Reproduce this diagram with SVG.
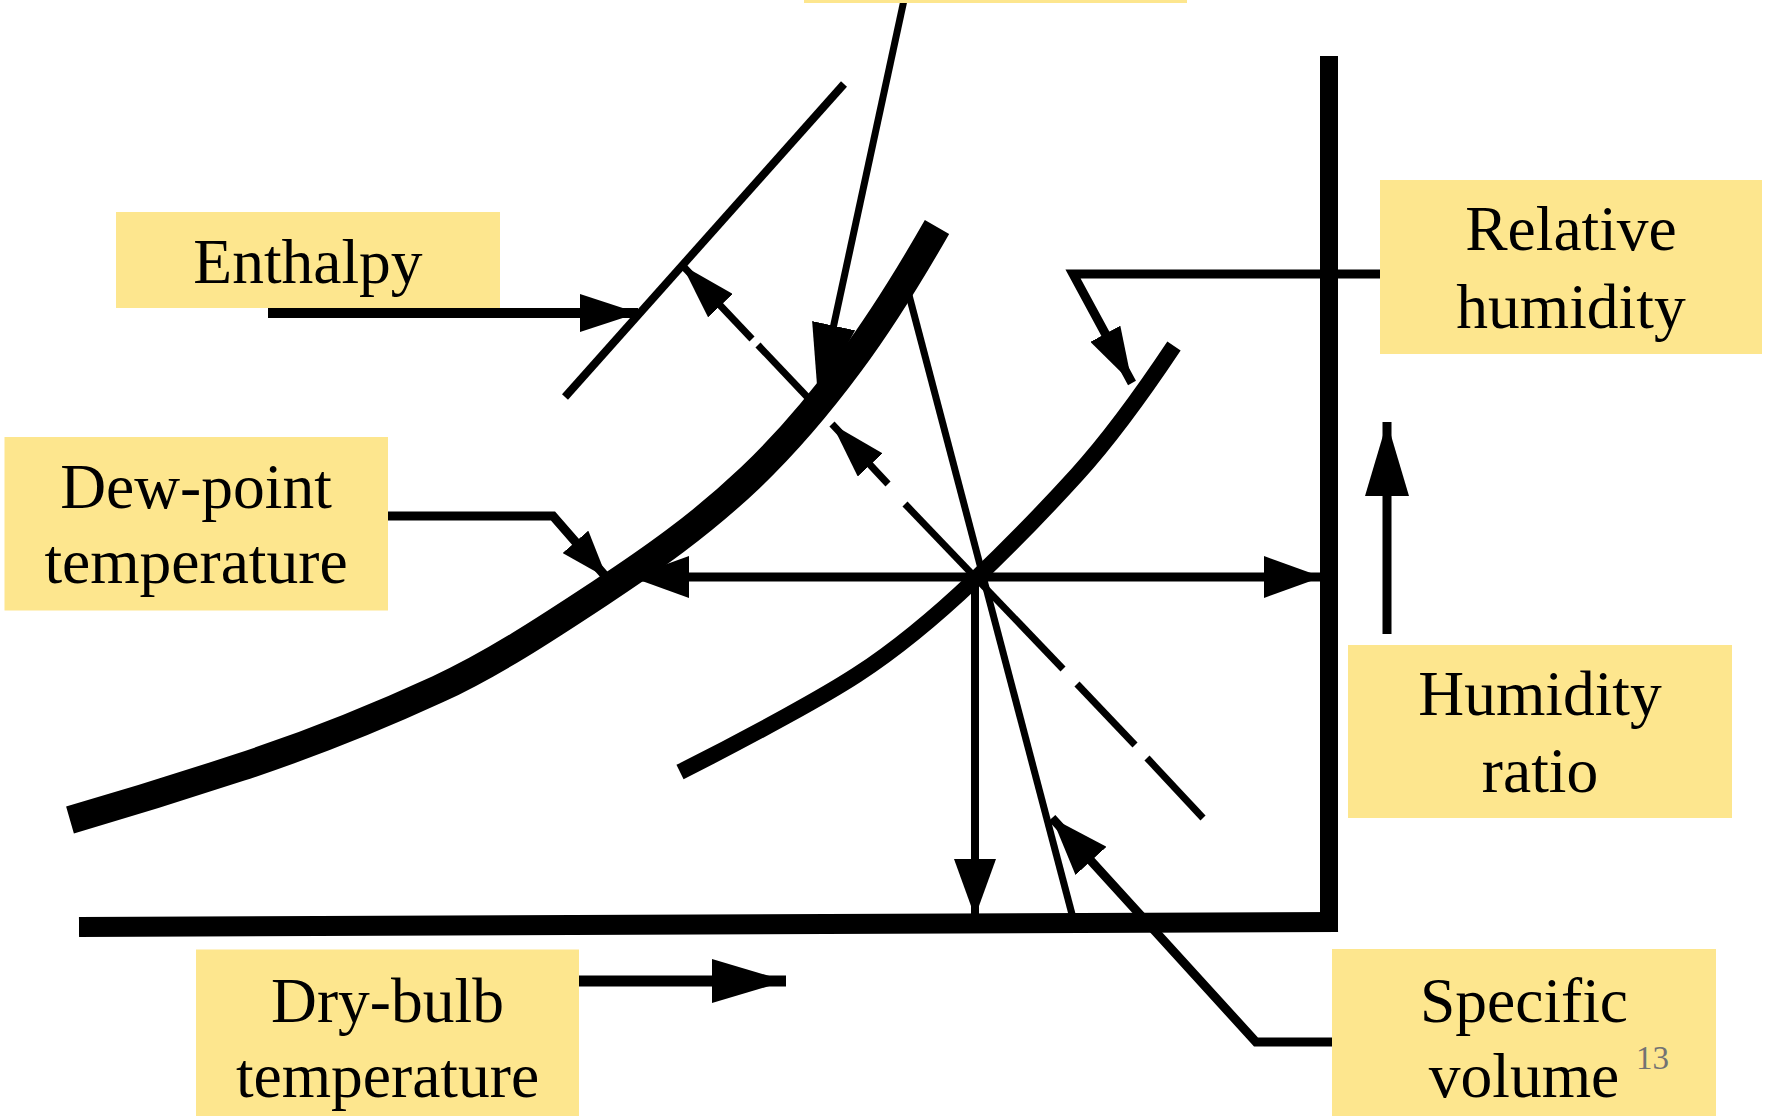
<svg xmlns="http://www.w3.org/2000/svg" width="1768" height="1116" viewBox="0 0 1768 1116">
<style>
.box{fill:#FDE68E}
.lbl{font-family:"Liberation Serif","Times New Roman",serif;font-size:63.5px;fill:#000;text-anchor:middle}
.ln{stroke:#000;fill:none;stroke-linecap:butt;stroke-linejoin:miter}
.pg{font-family:"Liberation Serif","Times New Roman",serif;font-size:33px;fill:#737373}
</style>
<defs>
<marker id="a-enth" markerUnits="userSpaceOnUse" viewBox="0 0 58 38" markerWidth="58" markerHeight="38" refX="58" refY="19" orient="auto"><path d="M0,0 L58,19 L0,38 z"/></marker>
<marker id="a-dash" markerUnits="userSpaceOnUse" viewBox="0 0 56 34" markerWidth="56" markerHeight="34" refX="56" refY="17" orient="auto"><path d="M0,0 L56,17 L0,34 z"/></marker>
<marker id="a-std" markerUnits="userSpaceOnUse" viewBox="0 0 58 42" markerWidth="58" markerHeight="42" refX="58" refY="21" orient="auto-start-reverse"><path d="M0,0 L58,21 L0,42 z"/></marker>
<marker id="a-long" markerUnits="userSpaceOnUse" viewBox="0 0 74 44" markerWidth="74" markerHeight="44" refX="74" refY="22" orient="auto"><path d="M0,0 L74,22 L0,44 z"/></marker>
<marker id="a-small" markerUnits="userSpaceOnUse" viewBox="0 0 48 34" markerWidth="48" markerHeight="34" refX="48" refY="17" orient="auto"><path d="M0,0 L48,17 L0,34 z"/></marker>
</defs>
<rect width="1768" height="1116" fill="#fff"/>

<g id="connectors">
  <!-- enthalpy line -->
  <line class="ln" x1="565" y1="397" x2="844" y2="84" stroke-width="8"/>
  <!-- specific volume line -->
  <line class="ln" x1="905" y1="280" x2="1073" y2="918" stroke-width="7"/>
  <!-- wet-bulb / enthalpy dashed line through state point -->
  <line class="ln" x1="752" y1="339" x2="682" y2="265" stroke-width="7" marker-end="url(#a-dash)"/>
  <line class="ln" x1="758" y1="345" x2="812" y2="402" stroke-width="7"/>
  <line class="ln" x1="888" y1="484" x2="832" y2="424" stroke-width="7" marker-end="url(#a-dash)"/>
  <line class="ln" x1="905" y1="504" x2="1063" y2="669" stroke-width="7"/>
  <line class="ln" x1="1077" y1="684" x2="1135" y2="745" stroke-width="7"/>
  <line class="ln" x1="1147" y1="758" x2="1203" y2="818" stroke-width="7"/>
  <!-- humidity ratio line (horizontal) -->
  <line class="ln" x1="631" y1="577" x2="1322" y2="577" stroke-width="9" marker-start="url(#a-std)" marker-end="url(#a-std)"/>
  <!-- dry-bulb line (vertical) -->
  <line class="ln" x1="975" y1="578" x2="975" y2="917" stroke-width="8" marker-end="url(#a-std)"/>
  <!-- label connectors -->
  <line class="ln" x1="268" y1="313" x2="638" y2="313" stroke-width="10" marker-end="url(#a-enth)"/>
  <polyline class="ln" points="388,516 553,516 607,578" stroke-width="9" marker-end="url(#a-small)"/>
  <line class="ln" x1="904" y1="0" x2="818" y2="398" stroke-width="7" marker-end="url(#a-long)"/>
  <polyline class="ln" points="1380,274 1073,274 1132,383" stroke-width="9" marker-end="url(#a-dash)"/>
  <line class="ln" x1="1387" y1="634" x2="1387" y2="422" stroke-width="9" marker-end="url(#a-long)"/>
  <line class="ln" x1="579" y1="981" x2="786" y2="981" stroke-width="11" marker-end="url(#a-long)"/>
  <polyline class="ln" points="1332,1042 1256,1042 1052,818" stroke-width="9" marker-end="url(#a-std)"/>
</g>

<g id="chart">
  <!-- saturation curve -->
  <path class="ln" stroke-width="28" d="M70,820 C126.67,803.57 183.33,786 240,767.3 C306,745.5 372,719.5 438,689.1 C492,664.3 546,628.8 600,593.2 C650,560.2 700,525.5 750,478 C783.33,446.3 816.67,408 850,363 C879,323.85 908,277.75 937,227"/>
  <!-- relative humidity curve -->
  <path class="ln" stroke-width="16" d="M680,772 C715.33,754.3 750.67,735.7 786,716.3 C809.67,703.3 833.33,690.2 857,674.8 C896.33,649.2 935.67,616.6 975,579.2 C1009,546.9 1043,512 1077,474.6 C1109.33,439 1141.67,394.5 1174,346"/>
  <!-- axes -->
  <line class="ln" x1="79" y1="927" x2="1338" y2="922" stroke-width="20"/>
  <line class="ln" x1="1329" y1="56" x2="1329" y2="932" stroke-width="18"/>
</g>

<g id="node-wetbulb"><rect class="box" x="804" y="0" width="383" height="3"/></g>
<g id="node-enthalpy"><rect class="box" x="116" y="212" width="384" height="96"/><text class="lbl" x="308" y="283">Enthalpy</text></g>
<g id="node-dewpoint"><rect class="box" x="4.5" y="437" width="383.5" height="173.5"/><text class="lbl" x="196" y="508">Dew-point</text><text class="lbl" x="196" y="583">temperature</text></g>
<g id="node-rh"><rect class="box" x="1380" y="180" width="382" height="174"/><text class="lbl" x="1571" y="250">Relative</text><text class="lbl" x="1571" y="328">humidity</text></g>
<g id="node-hr"><rect class="box" x="1348" y="645" width="384" height="173"/><text class="lbl" x="1540" y="715">Humidity</text><text class="lbl" x="1540" y="792">ratio</text></g>
<g id="node-drybulb"><rect class="box" x="196" y="949.5" width="383" height="166.5"/><text class="lbl" x="387.5" y="1022">Dry-bulb</text><text class="lbl" x="387.5" y="1097">temperature</text></g>
<g id="node-specvol"><rect class="box" x="1332" y="949" width="384" height="167"/><text class="lbl" x="1524" y="1022">Specific</text><text class="lbl" x="1524" y="1097">volume</text></g>
<text class="pg" x="1636" y="1069">13</text>
</svg>
